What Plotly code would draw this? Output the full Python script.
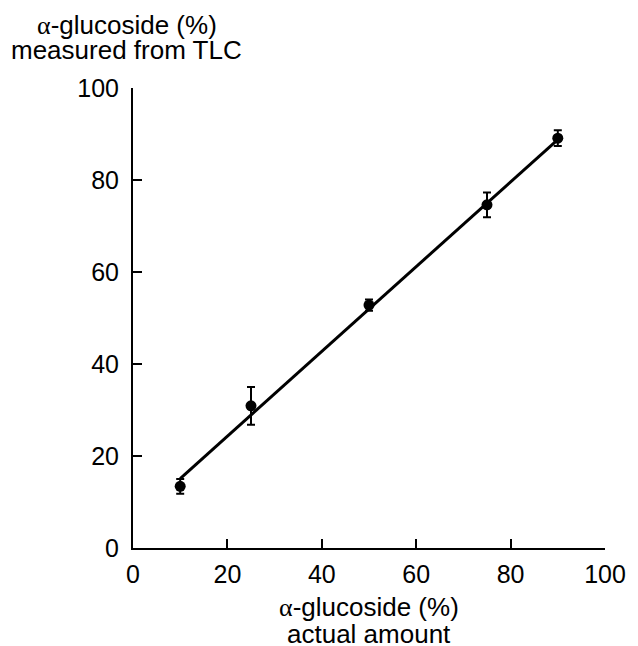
import plotly.graph_objects as go

# Data
actual = [10, 25, 50, 75, 90]
measured = [13.4, 30.9, 52.8, 74.6, 89.1]
err = [1.6, 4.1, 1.2, 2.7, 1.7]
fit_x = [10, 90]
fit_y = [15.1, 88.8]
ticks = [0, 20, 40, 60, 80, 100]

FONT = "Liberation Sans, Arial, Helvetica, sans-serif"
ALPHA = '<span style="font-family:Liberation Serif, Times New Roman, serif">α</span>'

fig = go.Figure()
fig.add_trace(go.Scatter(x=fit_x, y=fit_y, mode="lines",
                         line=dict(color="black", width=3), showlegend=False,
                         hoverinfo="skip"))
fig.add_trace(go.Scatter(x=actual, y=measured, mode="markers",
                         marker=dict(color="black", size=11),
                         error_y=dict(type="data", array=err, visible=True,
                                      color="black", thickness=2, width=4),
                         showlegend=False))

axis_common = dict(range=[0, 100], tickvals=ticks, ticks="inside", ticklen=9,
                   tickwidth=2, tickcolor="black", showline=True, linecolor="black",
                   linewidth=2, showgrid=False, zeroline=False,
                   tickfont=dict(family=FONT, size=25, color="black"))
fig.update_xaxes(**axis_common, ticklabelstandoff=3)
fig.update_yaxes(**axis_common, ticklabelstandoff=7)

title_font = dict(family=FONT, size=26, color="black")
y_title = [ALPHA + "-glucoside (%)", "measured from TLC"]
x_title = [ALPHA + "-glucoside (%)", "actual amount"]
for txt, shift in zip(y_title, [63, 38]):
    fig.add_annotation(text=txt, xref="paper", yref="paper", x=-0.013, y=1.0,
                       yshift=shift, xanchor="center", yanchor="middle",
                       showarrow=False, font=title_font)
for txt, shift in zip(x_title, [-59, -86]):
    fig.add_annotation(text=txt, xref="paper", yref="paper", x=0.5, y=0.0,
                       yshift=shift, xanchor="center", yanchor="middle",
                       showarrow=False, font=title_font)

fig.update_layout(width=630, height=638, margin=dict(l=125, r=25, t=80, b=98),
                  plot_bgcolor="white", paper_bgcolor="white",
                  font=dict(family=FONT, color="black"))
fig.write_html("out.html")
